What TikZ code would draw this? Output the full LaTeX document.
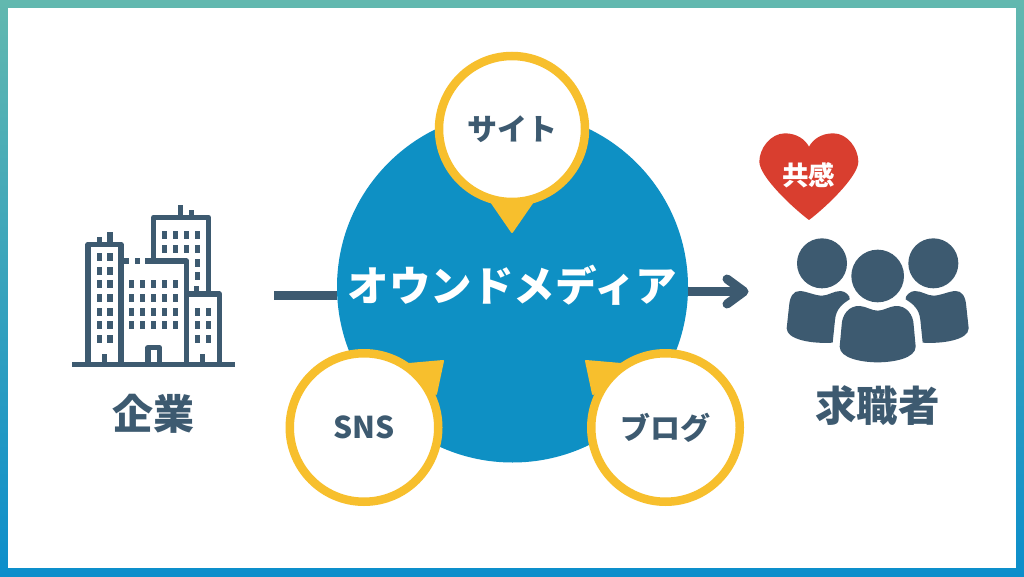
\documentclass[tikz,border=0pt]{standalone}
\usepackage{fontspec}
\setmainfont{Noto Sans CJK JP}
\definecolor{ink}{HTML}{3D5A70}
\definecolor{hubblue}{HTML}{0E90C4}
\definecolor{ringyellow}{HTML}{F7BF2D}
\definecolor{heartred}{HTML}{D93E2F}
\definecolor{frametop}{HTML}{62B8AF}
\definecolor{framebot}{HTML}{0C8ECB}
\tikzset{
  hub/.style={circle,fill=hubblue,minimum size=351pt,inner sep=0pt,outer sep=0pt},
  bubble/.style={circle,draw=ringyellow,line width=8.5pt,fill=white,minimum size=148.5pt,inner sep=0pt,text=ink,font=\bfseries\fontsize{30pt}{30pt}\selectfont},
  tip/.style={fill=ringyellow,draw=ringyellow,line width=2pt,line join=round},
  conn/.style={draw=ink,line width=9pt},
  label/.style={text=ink,inner sep=0pt,font=\bfseries\fontsize{41pt}{41pt}\selectfont},
  bldg/.style={draw=ink,line width=5.3pt,line join=round,line cap=butt},
}
\begin{document}
\begin{tikzpicture}[x=1pt,y=-1pt]
\useasboundingbox (0,0) rectangle (1024,577);
\shade[top color=frametop,bottom color=framebot] (0,0) rectangle (1024,577);
\fill[white] (8,8) rectangle (1016,568);

% connectors
\coordinate (start) at (274,295);
\coordinate (end) at (744,291.5);
\node[hub] (media) at (512.5,287) {};
\draw[conn] (start) -- (start -| media.west);
\draw[conn] (end -| media.east) -- (end);
\draw[conn,line join=round,line cap=round] (727,279) -- (end) -- (727,304);
\node[hub,fill=none,text=white,font=\bfseries\fontsize{41.5pt}{41.5pt}\selectfont] (medialabel) at (512.5,285) {オウンドメディア};

% bubbles
\fill[tip] (492,203) -- (512,232) -- (532,203) -- cycle;
\node[bubble,minimum size=146pt] (site) at (512,129) {サイト};
\fill[tip] (409,364) -- (443,361) -- (436,394) -- cycle;
\node[bubble] (sns) at (364,427.5) {SNS};
\fill[tip] (621,364) -- (586,361) -- (593,394) -- cycle;
\node[bubble] (blog) at (665.5,427.5) {ブログ};

% building icon
\begin{scope}[shift={(60,190)},x=.33333pt,y=-.33333pt]
  \draw[bldg] (84,524) -- (84,163) -- (183,163) -- (183,524);
  \draw[bldg] (118,163) -- (118,140) (150,163) -- (150,125);
  \draw[bldg] (281,213) -- (281,82) -- (445,82) -- (445,312);
  \draw[bldg] (362,82) -- (362,45) (395,82) -- (395,60) (410,312) -- (410,288);
  \draw[bldg] (183,213) -- (207,213) (225,213) -- (240,213) (255,213) -- (380,213) -- (380,524);
  \draw[bldg] (380,312) -- (478,312) -- (478,524);
  \draw[bldg] (264,524) -- (264,473) -- (298,473) -- (298,524);
  \draw[bldg] (133,524) -- (133,492) (428,524) -- (428,492);
  \draw[draw=ink,line width=5.5pt] (36,524) -- (525,524);
  \foreach \cx in {118,150} \foreach \cy in {201,242,283,323,365,405,446}
    \fill[ink] (\cx-8,\cy-12) rectangle (\cx+8,\cy+12);
  \foreach \cx in {313,346,379,412} \foreach \cy in {136,177}
    \fill[ink] (\cx-8,\cy-12) rectangle (\cx+8,\cy+12);
  \foreach \cy in {218,259}
    \fill[ink] (412-8,\cy-12) rectangle (412+8,\cy+12);
  \foreach \cx in {215,248,281,314,347} \foreach \cy in {283,323,365,405}
    \fill[ink] (\cx-8,\cy-12) rectangle (\cx+8,\cy+12);
  \foreach \cx in {412,445} \foreach \cy in {365,405,446}
    \fill[ink] (\cx-8,\cy-12) rectangle (\cx+8,\cy+12);
\end{scope}
\node[label] (company) at (153.5,414) {企業};

% heart and people
\begin{scope}[shift={(750,120)},x=.33333pt,y=-.33333pt]
  \fill[heartred] (177,80) .. controls (165,58) and (140,40) .. (105,40)
    .. controls (62,40) and (28,85) .. (28,125)
    .. controls (28,170) and (130,265) .. (177,300)
    .. controls (224,265) and (325,170) .. (325,125)
    .. controls (325,85) and (292,40) .. (250,40)
    .. controls (214,40) and (189,58) .. (177,80) -- cycle;
  \fill[ink] (216,430) circle[radius=75];
  \fill[ink] (550,430) circle[radius=75];
  \fill[ink] (383,468) circle[radius=79];
  % centre body
  \fill[ink] (330,558) .. controls (350,560) and (365,572) .. (383,572)
    .. controls (401,572) and (416,560) .. (436,558)
    .. controls (470,556) and (490,585) .. (491,615)
    -- (497,680) .. controls (497,715) and (430,727) .. (383,727)
    .. controls (336,727) and (269,715) .. (269,680)
    -- (275,615) .. controls (276,585) and (296,556) .. (330,558) -- cycle;
  % left body
  \fill[ink] (150,513) .. controls (170,514) and (195,527) .. (216,527)
    .. controls (235,527) and (250,513) .. (272,513)
    .. controls (285,513) and (302,528) .. (299,538)
    .. controls (280,550) and (258,565) .. (255,600)
    -- (248,668) .. controls (190,672) and (110,660) .. (110,625)
    -- (117,560) .. controls (119,530) and (130,512) .. (150,513) -- cycle;
  % right body
  \fill[ink] (616,513) .. controls (596,514) and (571,527) .. (550,527)
    .. controls (531,527) and (516,513) .. (494,513)
    .. controls (481,513) and (464,528) .. (467,538)
    .. controls (486,550) and (508,565) .. (511,600)
    -- (518,668) .. controls (576,672) and (656,660) .. (656,625)
    -- (649,560) .. controls (647,530) and (636,512) .. (616,513) -- cycle;
\end{scope}
\node[text=white,inner sep=0pt,font=\bfseries\fontsize{26.5pt}{26.5pt}\selectfont] (empathy) at (808.5,175) {共感};
\node[label,font=\bfseries\fontsize{41.5pt}{41.5pt}\selectfont] (seeker) at (877.5,406) {求職者};
\end{tikzpicture}
\end{document}
